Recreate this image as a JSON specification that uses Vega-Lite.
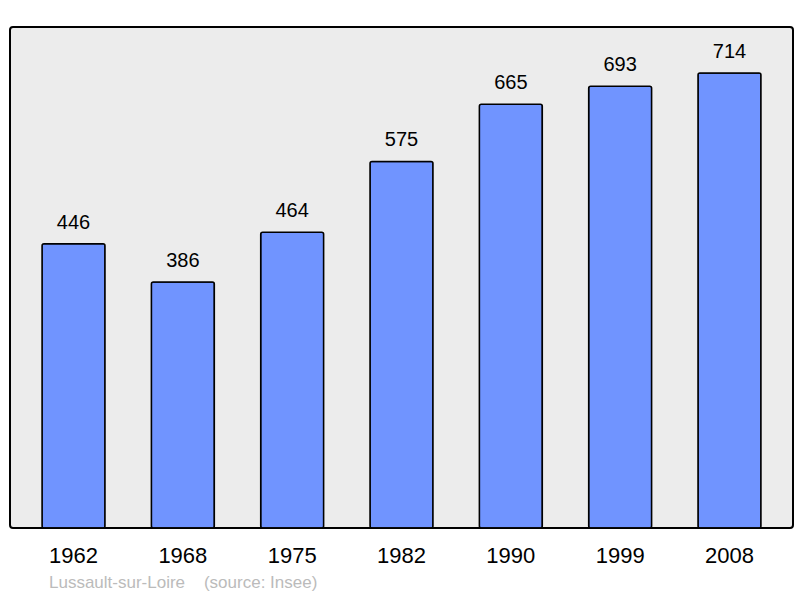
{
  "$schema": "https://vega.github.io/schema/vega-lite/v6.json",
  "autosize": {"type": "none"},
  "padding": {"left": 10, "top": 27, "right": 7, "bottom": 70},
  "width": 783,
  "height": 501,
  "config": {
    "font": "Liberation Sans",
    "view": {"fill": "#ececec", "stroke": "#000000", "strokeWidth": 2, "cornerRadius": 3}
  },
  "title": {
    "text": "Lussault-sur-Loire\u00a0\u00a0\u00a0\u00a0(source: Insee)",
    "orient": "bottom",
    "anchor": "start",
    "dx": 39,
    "offset": 9,
    "fontSize": 17,
    "fontWeight": "normal",
    "color": "#bbbbbb"
  },
  "data": {
    "values": [
      {"year": "1962", "pop": 446},
      {"year": "1968", "pop": 386},
      {"year": "1975", "pop": 464},
      {"year": "1982", "pop": 575},
      {"year": "1990", "pop": 665},
      {"year": "1999", "pop": 693},
      {"year": "2008", "pop": 714}
    ]
  },
  "encoding": {
    "x": {
      "field": "year",
      "type": "ordinal",
      "sort": null,
      "scale": {"paddingInner": 0.424, "paddingOuter": 0.293},
      "axis": {"title": null, "labelAngle": 0, "labelFontSize": 22, "labelColor": "#000000", "ticks": false, "domain": false, "labelPadding": 17}
    },
    "y": {
      "field": "pop",
      "type": "quantitative",
      "scale": {"domain": [0, 786], "nice": false},
      "axis": null
    }
  },
  "layer": [
    {
      "mark": {"type": "bar", "fill": "#7094ff", "stroke": "#000000", "strokeWidth": 1.5, "cornerRadius": 2}
    },
    {
      "mark": {"type": "text", "baseline": "bottom", "dy": -11, "fontSize": 20, "color": "#000000"},
      "encoding": {"text": {"field": "pop", "type": "quantitative"}}
    }
  ]
}
